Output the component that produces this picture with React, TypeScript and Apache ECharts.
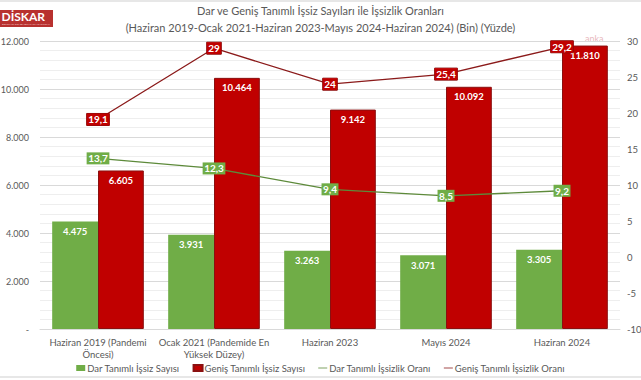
import React, { useEffect, useRef } from "react";
import * as echarts from "echarts";

const categories = [
  "Haziran 2019 (Pandemi\nÖncesi)",
  "Ocak 2021 (Pandemide En\nYüksek Düzey)",
  "Haziran 2023",
  "Mayıs 2024",
  "Haziran 2024",
];
const darSayi = [4475, 3931, 3263, 3071, 3305];
const genisSayi = [6605, 10464, 9142, 10092, 11810];
const darOran = [13.7, 12.3, 9.4, 8.5, 9.2];
const genisOran = [19.1, 29, 24, 25.4, 29.2];

const titleLines = [
  "Dar ve Geniş Tanımlı İşsiz Sayıları ile İşsizlik Oranları",
  "(Haziran 2019-Ocak 2021-Haziran 2023-Mayıs 2024-Haziran 2024) (Bin) (Yüzde)",
];
const seriesNames = [
  "Dar Tanımlı İşsiz Sayısı",
  "Geniş Tanımlı İşsiz Sayısı",
  "Dar Tanımlı İşsizlik Oranı",
  "Geniş Tanımlı İşsizlik Oranı",
];

const thousands = (v: number) =>
  String(Math.round(v)).replace(/\B(?=(\d{3})+(?!\d))/g, ".");
const comma = (v: number) => String(v).replace(".", ",");

const FONT = "Lato";
const GREEN = "#70AD47";
const RED = "#C00000";
const TXT = "#595959";

export default function App() {
  const ref = useRef<HTMLDivElement>(null);
  useEffect(() => {
    if (!ref.current) return;
    const chart = echarts.init(ref.current, undefined, { renderer: "svg" });
    const barLabel = {
      show: true,
      position: "insideTop",
      distance: 5,
      color: "#fff",
      fontFamily: FONT,
      fontSize: 9.5,
      fontWeight: "bold",
      formatter: (p: any) => thousands(p.value),
    };
    chart.setOption({
      animation: false,
      backgroundColor: "#ffffff",
      textStyle: { fontFamily: FONT },
      title: {
        text: titleLines.join("\n"),
        left: "center",
        top: 1.5,
        padding: 0,
        textStyle: {
          fontFamily: FONT,
          fontSize: 11,
          fontWeight: "normal",
          color: TXT,
          lineHeight: 17,
        },
      },
      legend: {
        top: 363,
        left: "center",
        padding: 0,
        itemGap: 13,
        itemWidth: 9,
        itemHeight: 6,
        textStyle: { fontFamily: FONT, fontSize: 9.5, color: TXT, padding: [0, 0, 0, -3] },
        data: [
          { name: seriesNames[0], icon: "rect" },
          { name: seriesNames[1], icon: "rect" },
          { name: seriesNames[2], icon: "path://M0,4 L16,4 L16,5.4 L0,5.4 Z" },
          { name: seriesNames[3], icon: "path://M0,4 L16,4 L16,5.4 L0,5.4 Z" },
        ],
      },
      grid: { left: 40, right: 21, top: 41, bottom: 51, outerBoundsMode: "none", containLabel: false },
      xAxis: {
        type: "category",
        data: categories,
        axisLine: { lineStyle: { color: "#d9d9d9" } },
        axisTick: { show: false },
        axisLabel: {
          color: TXT,
          fontFamily: FONT,
          fontSize: 9.5,
          lineHeight: 11.5,
          margin: 8,
          interval: 0,
        },
      },
      yAxis: [
        {
          type: "value",
          min: 0,
          max: 12000,
          interval: 2000,
          axisLine: { show: false },
          axisTick: { show: false },
          axisLabel: {
            color: TXT,
            fontFamily: FONT,
            fontSize: 9,
            margin: 11,
            formatter: (v: number) => (v === 0 ? "-" : thousands(v)),
          },
          splitLine: { lineStyle: { color: "#d9d9d9" } },
          minorTick: { show: false, splitNumber: 5 },
          minorSplitLine: { show: true, lineStyle: { color: "#eeeeee" } },
        },
        {
          type: "value",
          min: -10,
          max: 30,
          interval: 5,
          axisLine: { show: false },
          axisTick: { show: false },
          splitLine: { show: false },
          axisLabel: {
            color: TXT,
            fontFamily: FONT,
            fontSize: 9.5,
            margin: 7,
          },
        },
      ],
      series: [
        {
          name: seriesNames[0],
          type: "bar",
          data: darSayi,
          barGap: "0%",
          barCategoryGap: "21%",
          itemStyle: { color: GREEN },
          label: barLabel,
          z: 2,
        },
        {
          name: seriesNames[1],
          type: "bar",
          data: genisSayi,
          itemStyle: { color: RED, borderColor: "#8a1010", borderWidth: 1 },
          label: barLabel,
          z: 2,
        },
        {
          name: seriesNames[2],
          type: "line",
          yAxisIndex: 1,
          data: darOran,
          symbol: "circle",
          symbolSize: 1,
          itemStyle: { color: "#5d8a3a" },
          lineStyle: { color: "#5d8a3a", width: 1.3 },
          label: {
            show: true,
            position: "inside",
            color: "#fff",
            backgroundColor: GREEN,
            padding: [1.5, 1.5, 0.5, 1.5],
            fontFamily: FONT,
            fontSize: 10,
            fontWeight: "bold",
            formatter: (p: any) => comma(p.value),
          },
          z: 5,
        },
        {
          name: seriesNames[3],
          type: "line",
          yAxisIndex: 1,
          data: genisOran,
          symbol: "circle",
          symbolSize: 1,
          itemStyle: { color: "#8b1a1a" },
          lineStyle: { color: "#8b1a1a", width: 1.3 },
          label: {
            show: true,
            position: "inside",
            color: "#fff",
            backgroundColor: RED,
            borderColor: "#7a0c0c",
            borderWidth: 0.5,
            padding: [1.5, 1.5, 0.5, 1.5],
            fontFamily: FONT,
            fontSize: 10,
            fontWeight: "bold",
            formatter: (p: any) => comma(p.value),
          },
          z: 5,
        },
      ],
      graphic: [
        { type: "line", shape: { x1: 0, y1: 1, x2: 641, y2: 1 }, style: { stroke: "#cfcfcf", lineWidth: 1 } },
        { type: "line", shape: { x1: 0, y1: 377, x2: 641, y2: 377 }, style: { stroke: "#cfcfcf", lineWidth: 1 } },
        {
          type: "rect",
          shape: { x: 0, y: 10, width: 53, height: 17 },
          style: { fill: "#b8312f" },
        },
        {
          type: "text",
          x: 1.5,
          y: 10.5,
          style: { text: "DİSKAR", fill: "#fff", font: "bold 12px " + FONT },
        },
        {
          type: "text",
          x: 2,
          y: 23,
          style: { text: "DEVRİMCİ İŞÇİ SENDİKALARI ARAŞTIRMA", fill: "#f3d0cf", font: "2.5px " + FONT },
        },
        {
          type: "text",
          x: 585,
          y: 34,
          style: { text: "anka", fill: "#e9b9c0", font: "9px " + FONT },
        },
      ],
    });
    return () => chart.dispose();
  }, []);
  return (
    <div
      ref={ref}
      style={{ position: "fixed", left: 0, top: 0, width: 641, height: 380 }}
    />
  );
}
